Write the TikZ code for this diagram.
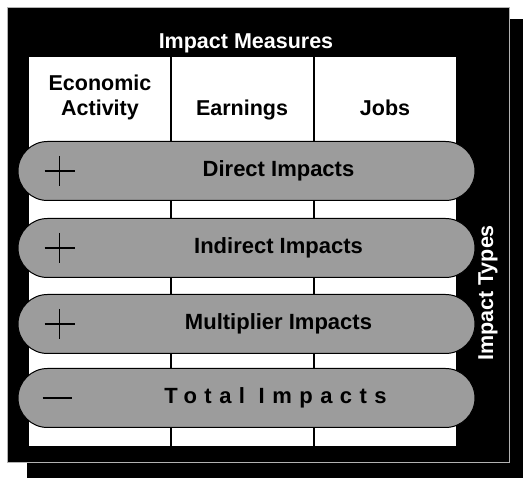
\documentclass[tikz,border=0pt]{standalone}
\usepackage{fontspec}
\setmainfont{Liberation Sans}
\usepackage{tikz}
\usetikzlibrary{shapes.misc}

\tikzset{
  cell/.style={fill=white, inner sep=0pt, anchor=north west,
    minimum width=141pt, minimum height=389pt},
  pill/.style={rounded rectangle, draw=black, line width=1pt, fill=gray!78,
    minimum width=457pt, minimum height=59pt, inner sep=0pt},
  pilltext/.style={font=\bfseries\fontsize{22}{24}\selectfont},
  headtext/.style={font=\bfseries\fontsize{21.5}{25}\selectfont, align=center},
  sign/.style={black, line width=1.4pt}
}

\begin{document}
\begin{tikzpicture}[x=1pt,y=-1pt]
  \useasboundingbox (0,0) rectangle (523,478);
  \fill[white] (0,0) rectangle (523,478);

  % frame and its shadow
  \fill[black] (27,19) rectangle (523,478);
  \fill[black] (7,7) rectangle (510,463);
  \draw[gray!60, thin] (7.5,7.5) rectangle (509.5,462.5);

  % columns
  \node[cell] (econ) at (29,57) {};
  \node[cell] (earn) at (172,57) {};
  \node[cell] (jobs) at (315,57) {};

  \node[white, headtext] (measures) at (246,43) {Impact Measures};
  \node[headtext] (econlab) at (100,97) {Economic\\Activity};
  \node[headtext, anchor=base] (earnlab) at (242,116) {Earnings};
  \node[headtext, anchor=base] (jobslab) at (385,116) {Jobs};

  \node[white, headtext, rotate=90] (types) at (488,293) {Impact Types};

  % impact types
  \foreach \name/\y/\txt in {direct/171/Direct Impacts,
      indirect/248/Indirect Impacts,
      multiplier/324/Multiplier Impacts}{
    \node[pill] (\name) at (246.5,\y) {};
    \node[pilltext] (\name lab) at ([xshift=32pt]\name.center) {\txt};
    \draw[sign] ([xshift=42pt,yshift=15pt]\name.west) -- ([xshift=42pt,yshift=-15pt]\name.west);
    \draw[sign] ([xshift=27pt]\name.west) -- ([xshift=57pt]\name.west);
  }

  \node[pill] (total) at (246.5,398) {};
  \node[pilltext] (totallab) at ([xshift=29pt]total.center)
    {\addfontfeature{LetterSpace=34}Total Impacts};
  \draw[sign] ([xshift=25pt]total.west) -- ([xshift=54pt]total.west);

\end{tikzpicture}
\end{document}
